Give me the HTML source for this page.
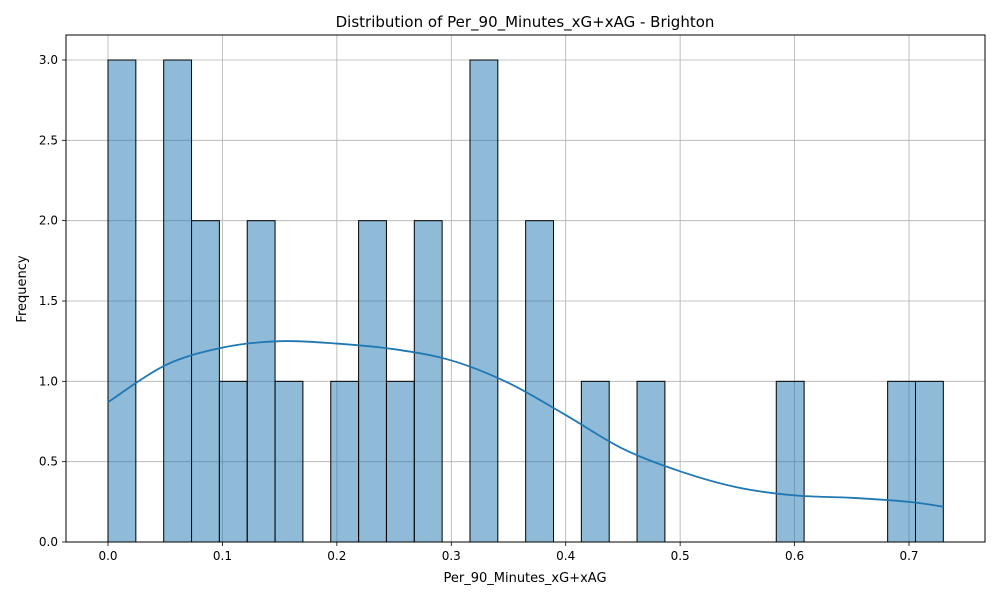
<!DOCTYPE html>
<html><head><meta charset="utf-8"><style>
body{margin:0;background:#fff;font-family:"Liberation Sans","DejaVu Sans",sans-serif;}
svg text{font-family:"DejaVu Sans","Liberation Sans",sans-serif;}
</style></head><body>
<svg id="chart" width="1000" height="600" xmlns="http://www.w3.org/2000/svg">
<rect width="1000" height="600" fill="#fff"/>
<g id="grid"></g><g id="bars"></g><g id="kde"></g><g id="axes"></g>
<text x="525" y="27" font-size="15" text-anchor="middle">Distribution of Per_90_Minutes_xG+xAG - Brighton</text>
<text x="525" y="582" font-size="13" text-anchor="middle">Per_90_Minutes_xG+xAG</text>
<text x="26" y="289" font-size="13" text-anchor="middle" transform="rotate(-90 26 289)">Frequency</text>
</svg>
<script>
const binStart = 0, binWidth = 0.73/30;
const counts = [3,0,3,2,1,2,1,0,1,2,1,2,0,3,0,2,0,1,0,1,0,0,0,0,1,0,0,0,1,1];
const kdeX = [0,0.05,0.1,0.15,0.2,0.25,0.3,0.35,0.4,0.45,0.5,0.55,0.6,0.65,0.7,0.73];
const kdeY = [0.87,1.1,1.21,1.25,1.235,1.2,1.13,0.99,0.79,0.58,0.44,0.34,0.29,0.275,0.25,0.22];
const xTicks = [0,0.1,0.2,0.3,0.4,0.5,0.6,0.7];
const yTicks = [0,0.5,1,1.5,2,2.5,3];
const L=66,R=985,T=35,B=542;
const sx=v=>108+v*(909-108)/0.7;
const sy=v=>542-v*(542-60)/3;
const NS="http://www.w3.org/2000/svg";
function mk(tag,attrs,parent){const e=document.createElementNS(NS,tag);for(const k in attrs)e.setAttribute(k,attrs[k]);parent.appendChild(e);return e;}
const grid=document.getElementById('grid'),bars=document.getElementById('bars'),kde=document.getElementById('kde'),axes=document.getElementById('axes');
xTicks.forEach(t=>{
 const g=mk('line',{x1:sx(t),x2:sx(t),y1:T,y2:B,stroke:'#b0b0b0','stroke-width':0.8},grid);
 
 
 mk('line',{x1:sx(t),x2:sx(t),y1:B,y2:B+4,stroke:'#000','stroke-width':0.8},axes);
 const tx=mk('text',{x:sx(t),y:B+18,'font-size':12,'text-anchor':'middle'},axes);tx.textContent=t.toFixed(1);
 
 
});
yTicks.forEach(t=>{
 const g=mk('line',{x1:L,x2:R,y1:sy(t),y2:sy(t),stroke:'#b0b0b0','stroke-width':0.8},grid);
 
 
 mk('line',{x1:L-4,x2:L,y1:sy(t),y2:sy(t),stroke:'#000','stroke-width':0.8},axes);
 const tx=mk('text',{x:L-8,y:sy(t)+4,'font-size':12,'text-anchor':'end'},axes);tx.textContent=t.toFixed(1);
 
 
});
counts.forEach((c,i)=>{
 if(!c)return;
 const x0=sx(binStart+i*binWidth),x1=sx(binStart+(i+1)*binWidth);
 const r=mk('rect',{x:x0,y:sy(c),width:x1-x0,height:sy(0)-sy(c),fill:'rgba(31,119,180,0.5)',stroke:'#000','stroke-width':1},bars);
 
 
});
// smooth curve through kde points (Catmull-Rom)
const P=kdeX.map((x,i)=>[sx(x),sy(kdeY[i])]);
let d='M'+P[0][0]+','+P[0][1];
for(let i=0;i<P.length-1;i++){const p0=P[i-1]||P[i],p1=P[i],p2=P[i+1],p3=P[i+2]||P[i+1];
 d+=' C'+(p1[0]+(p2[0]-p0[0])/6)+','+(p1[1]+(p2[1]-p0[1])/6)+' '+(p2[0]-(p3[0]-p1[0])/6)+','+(p2[1]-(p3[1]-p1[1])/6)+' '+p2[0]+','+p2[1];}
const k=mk('path',{d:d,fill:'none',stroke:'#1f77b4','stroke-width':1.8},kde);


const fr=mk('rect',{x:L,y:T,width:R-L,height:B-T,fill:'none',stroke:'#000','stroke-width':1},axes);


</script>
</body></html>
